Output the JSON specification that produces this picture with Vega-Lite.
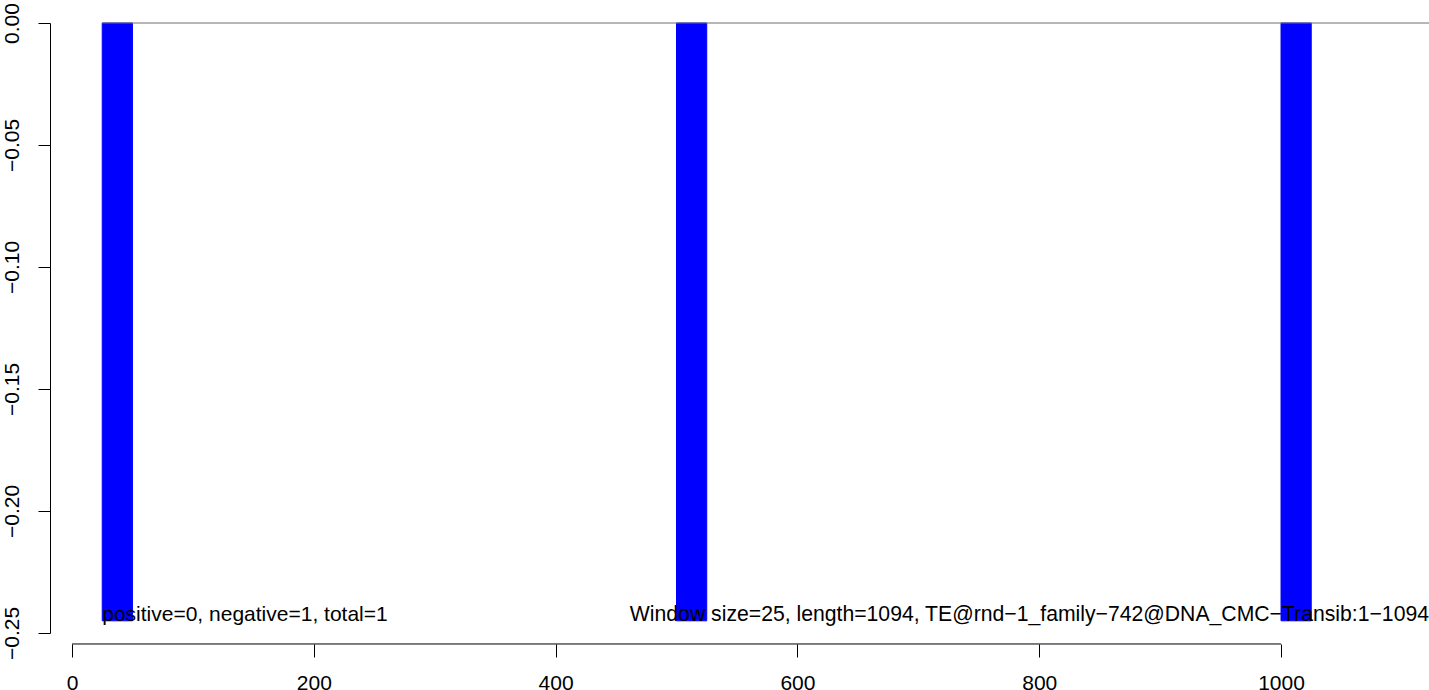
{
  "$schema": "https://vega.github.io/schema/vega-lite/v6.json",
  "width": 1357,
  "height": 610,
  "autosize": "none",
  "padding": {"left": 72, "top": 23, "right": 0, "bottom": 57},
  "background": "white",
  "config": {
    "view": {"stroke": null},
    "font": "Liberation Sans",
    "axis": {"labelFont": "Liberation Sans", "labelColor": "black", "tickColor": "black", "domainColor": "black", "grid": false, "title": null}
  },
  "layer": [
    {
      "data": {"values": [
        {"start": 25, "end": 50, "value": -0.245},
        {"start": 500, "end": 525, "value": -0.245},
        {"start": 1000, "end": 1025, "value": -0.245}
      ]},
      "mark": {"type": "rect", "color": "#0000ff", "stroke": "#0000ff", "strokeWidth": 1},
      "encoding": {
        "x": {"field": "start", "type": "quantitative", "scale": {"domain": [0, 1122.4], "nice": false, "zero": false},
          "axis": {"orient": "bottom", "offset": 11, "domain": false, "values": [0, 200, 400, 600, 800, 1000], "format": "d", "tickSize": 13, "tickWidth": 1, "labelFontSize": 21, "labelBaseline": "alphabetic", "labelPadding": 32, "labelFlush": false, "labelOverlap": false}},
        "x2": {"field": "end"},
        "y": {"field": "value", "type": "quantitative", "scale": {"domain": [-0.25, 0], "nice": false, "zero": false},
          "axis": {"orient": "left", "offset": 22, "values": [0, -0.05, -0.1, -0.15, -0.2, -0.25], "format": ".2f", "tickSize": 12, "tickWidth": 1, "domainWidth": 1, "labelAngle": 270, "labelAlign": "center", "labelBaseline": "alphabetic", "labelPadding": 20, "labelFontSize": 21, "labelFlush": false, "labelOverlap": false}},
        "y2": {"datum": 0}
      }
    },
    {
      "data": {"values": [{"from": 25, "to": 1122.4, "level": 0}]},
      "mark": {"type": "rule", "color": "#6e6e6e", "strokeWidth": 1},
      "encoding": {
        "x": {"field": "from", "type": "quantitative"},
        "x2": {"field": "to"},
        "y": {"field": "level", "type": "quantitative"}
      }
    },
    {
      "data": {"values": [{"from": 0, "to": 1000}]},
      "mark": {"type": "rule", "color": "black", "strokeWidth": 1, "clip": false},
      "encoding": {
        "x": {"field": "from", "type": "quantitative"},
        "x2": {"field": "to"},
        "y": {"datum": -0.2545}
      }
    },
    {
      "data": {"values": [{"x": 25, "y": -0.245, "label": "positive=0, negative=1, total=1"}]},
      "mark": {"type": "text", "align": "left", "baseline": "alphabetic", "fontSize": 21, "font": "Liberation Sans", "color": "black"},
      "encoding": {
        "x": {"field": "x", "type": "quantitative"},
        "y": {"field": "y", "type": "quantitative"},
        "text": {"field": "label"}
      }
    },
    {
      "data": {"values": [{"x": 1122.4, "y": -0.245, "label": "Window size=25, length=1094, TE@rnd−1_family−742@DNA_CMC−Transib:1−1094"}]},
      "mark": {"type": "text", "align": "right", "baseline": "alphabetic", "fontSize": 21.2, "font": "Liberation Sans", "color": "black"},
      "encoding": {
        "x": {"field": "x", "type": "quantitative"},
        "y": {"field": "y", "type": "quantitative"},
        "text": {"field": "label"}
      }
    }
  ]
}
